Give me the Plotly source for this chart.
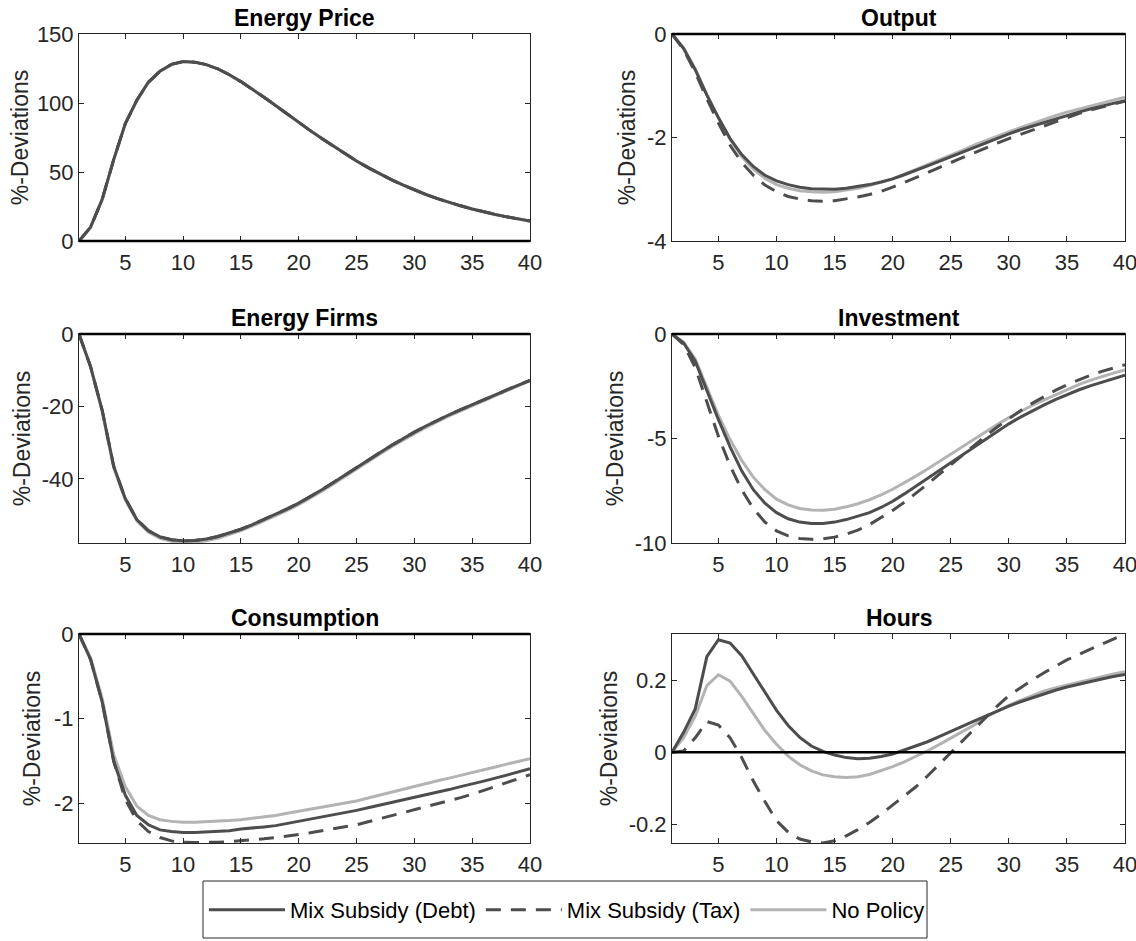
import plotly.graph_objects as go

# ---------------- data ----------------
periods = list(range(1, 41))
x_ticks = [5, 10, 15, 20, 25, 30, 35, 40]

panel_titles = ["Energy Price", "Output", "Energy Firms", "Investment", "Consumption", "Hours"]
series_names = ["Mix Subsidy (Debt)", "Mix Subsidy (Tax)", "No Policy"]
y_label = "%-Deviations"

# Energy Price (all three scenarios coincide)
ep_debt = [0, 10, 30, 59, 85, 102, 115, 123, 128, 130, 129.6, 127.8, 124.8, 120.5, 115.5, 110, 104.2, 98.2, 92, 86,
           80, 74.2, 68.6, 63.2, 58, 53.2, 48.7, 44.5, 40.6, 37, 33.7, 30.7, 28, 25.5, 23.2, 21.1, 19.2, 17.5, 15.9, 14.5]
ep_tax = [0, 10, 30, 59, 85, 102, 115, 123, 128, 130, 129.6, 127.8, 124.8, 120.5, 115.5, 110, 104.2, 98.2, 92, 86,
          80, 74.2, 68.6, 63.2, 58, 53.2, 48.7, 44.5, 40.6, 37, 33.7, 30.7, 28, 25.5, 23.2, 21.1, 19.2, 17.5, 15.9, 14.5]
ep_nopol = [0, 10, 30, 59, 85, 102, 115, 123, 128, 130, 129.6, 127.8, 124.8, 120.5, 115.5, 110, 104.2, 98.2, 92, 86,
            80, 74.2, 68.6, 63.2, 58, 53.2, 48.7, 44.5, 40.6, 37, 33.7, 30.7, 28, 25.5, 23.2, 21.1, 19.2, 17.5, 15.9, 14.5]

# Output
out_debt = [0, -0.28, -0.69, -1.18, -1.62, -2.02, -2.33, -2.56, -2.73, -2.84, -2.91, -2.96, -2.99, -3.0, -3.0,
            -2.98, -2.95, -2.91, -2.86, -2.8, -2.72, -2.64, -2.55, -2.46, -2.37, -2.28, -2.19, -2.1, -2.01, -1.93,
            -1.85, -1.78, -1.71, -1.64, -1.57, -1.51, -1.45, -1.39, -1.34, -1.29]
out_tax = [0, -0.3, -0.74, -1.25, -1.72, -2.15, -2.48, -2.73, -2.92, -3.05, -3.14, -3.19, -3.22, -3.23, -3.22,
           -3.19, -3.15, -3.1, -3.04, -2.96, -2.87, -2.78, -2.68, -2.58, -2.48, -2.39, -2.3, -2.2, -2.11, -2.02,
           -1.94, -1.85, -1.77, -1.69, -1.61, -1.54, -1.47, -1.41, -1.35, -1.3]
out_nopol = [0, -0.27, -0.68, -1.17, -1.62, -2.04, -2.37, -2.61, -2.79, -2.91, -2.98, -3.03, -3.05, -3.06, -3.05,
             -3.02, -2.98, -2.93, -2.87, -2.8, -2.71, -2.62, -2.53, -2.43, -2.34, -2.25, -2.15, -2.06, -1.97, -1.89,
             -1.81, -1.73, -1.66, -1.58, -1.51, -1.45, -1.39, -1.33, -1.27, -1.22]

# Energy Firms
ef_debt = [0, -9, -21, -36.5, -45.4, -51.2, -54.3, -56, -56.8, -57.1, -57, -56.6, -55.9, -55, -53.9,
           -52.6, -51.2, -49.8, -48.3, -46.7, -44.9, -43, -41, -38.9, -36.8, -34.8, -32.8, -30.8, -28.9, -27.1,
           -25.4, -23.8, -22.3, -20.9, -19.6, -18.2, -16.8, -15.4, -14.1, -12.8]
ef_tax = [0, -9, -21, -36.5, -45.4, -51.2, -54.3, -56, -56.8, -57.1, -57, -56.6, -55.9, -55, -53.9,
          -52.6, -51.2, -49.8, -48.3, -46.7, -44.9, -43, -41, -38.9, -36.8, -34.8, -32.8, -30.8, -28.9, -27.1,
          -25.4, -23.8, -22.3, -20.9, -19.6, -18.2, -16.8, -15.4, -14.1, -12.8]
ef_nopol = [0, -9.1, -21.3, -36.9, -45.8, -51.6, -54.7, -56.4, -57.2, -57.6, -57.5, -57.1, -56.4, -55.4, -54.3,
            -53, -51.6, -50.2, -48.7, -47.1, -45.3, -43.4, -41.4, -39.3, -37.2, -35.2, -33.2, -31.2, -29.3, -27.5,
            -25.8, -24.1, -22.6, -21.2, -19.8, -18.4, -17, -15.6, -14.2, -12.9]

# Investment
inv_debt = [0, -0.43, -1.3, -2.7, -4.1, -5.4, -6.55, -7.45, -8.1, -8.55, -8.84, -9.0, -9.07, -9.07, -9.0,
            -8.88, -8.73, -8.55, -8.3, -8.0, -7.65, -7.28, -6.9, -6.52, -6.14, -5.76, -5.39, -5.02, -4.65, -4.3,
            -3.98, -3.68, -3.4, -3.14, -2.9, -2.68, -2.48, -2.3, -2.13, -1.97]
inv_tax = [0, -0.5, -1.6, -3.3, -4.9, -6.3, -7.45, -8.35, -9.0, -9.42, -9.66, -9.78, -9.82, -9.8, -9.72,
           -9.58, -9.38, -9.12, -8.8, -8.44, -8.05, -7.63, -7.18, -6.72, -6.25, -5.78, -5.32, -4.88, -4.45, -4.05,
           -3.67, -3.32, -3.0, -2.7, -2.43, -2.2, -1.98, -1.79, -1.62, -1.47]
inv_nopol = [0, -0.4, -1.2, -2.55, -3.9, -5.05, -6.05, -6.85, -7.45, -7.9, -8.18, -8.35, -8.42, -8.43, -8.38,
             -8.27, -8.12, -7.93, -7.7, -7.43, -7.13, -6.8, -6.46, -6.1, -5.74, -5.38, -5.02, -4.67, -4.33, -4.0,
             -3.7, -3.42, -3.16, -2.92, -2.66, -2.42, -2.22, -2.04, -1.87, -1.72]

# Consumption
con_debt = [0, -0.3, -0.8, -1.5, -1.9, -2.14, -2.25, -2.31, -2.33, -2.34, -2.34, -2.335, -2.33, -2.32, -2.3,
            -2.29, -2.275, -2.26, -2.235, -2.21, -2.185, -2.16, -2.135, -2.11, -2.08, -2.05, -2.02, -1.99, -1.96,
            -1.93, -1.9, -1.87, -1.835, -1.8, -1.77, -1.735, -1.7, -1.665, -1.63, -1.59]
con_tax = [0, -0.3, -0.8, -1.5, -1.95, -2.2, -2.33, -2.4, -2.44, -2.455, -2.46, -2.46, -2.455, -2.45, -2.44,
           -2.43, -2.415, -2.4, -2.385, -2.365, -2.345, -2.32, -2.3, -2.275, -2.25, -2.215, -2.18, -2.145, -2.11,
           -2.07, -2.035, -2.0, -1.965, -1.93, -1.89, -1.845, -1.8, -1.755, -1.71, -1.66]
con_nopol = [0, -0.28, -0.76, -1.42, -1.8, -2.03, -2.14, -2.19, -2.21, -2.22, -2.22, -2.215, -2.21, -2.2, -2.19,
             -2.175, -2.16, -2.14, -2.115, -2.09, -2.07, -2.045, -2.02, -1.995, -1.97, -1.935, -1.9, -1.865, -1.83,
             -1.795, -1.763, -1.73, -1.7, -1.665, -1.635, -1.6, -1.568, -1.535, -1.502, -1.47]

# Hours
hrs_debt = [0, 0.055, 0.12, 0.265, 0.312, 0.303, 0.268, 0.218, 0.165, 0.116, 0.074, 0.041, 0.017, 0.002, -0.008,
            -0.015, -0.018, -0.017, -0.012, -0.005, 0.006, 0.017, 0.029, 0.043, 0.058, 0.072, 0.086, 0.1, 0.115,
            0.128, 0.14, 0.151, 0.162, 0.172, 0.181, 0.189, 0.196, 0.203, 0.21, 0.216]
hrs_tax = [0, 0.003, 0.04, 0.085, 0.075, 0.04, -0.015, -0.08, -0.137, -0.19, -0.222, -0.241, -0.249, -0.252,
           -0.246, -0.232, -0.215, -0.195, -0.172, -0.147, -0.122, -0.096, -0.066, -0.034, -0.002, 0.032, 0.065,
           0.097, 0.128, 0.157, 0.179, 0.2, 0.22, 0.238, 0.256, 0.271, 0.286, 0.3, 0.314, 0.328]
hrs_nopol = [0, 0.04, 0.1, 0.185, 0.215, 0.197, 0.155, 0.107, 0.06, 0.022, -0.011, -0.035, -0.052, -0.063, -0.068,
             -0.07, -0.068, -0.062, -0.052, -0.04, -0.027, -0.012, 0.004, 0.021, 0.04, 0.057, 0.075, 0.097, 0.113,
             0.13, 0.144, 0.157, 0.169, 0.178, 0.186, 0.195, 0.203, 0.21, 0.217, 0.223]

panel_data = [
    (ep_debt, ep_tax, ep_nopol),
    (out_debt, out_tax, out_nopol),
    (ef_debt, ef_tax, ef_nopol),
    (inv_debt, inv_tax, inv_nopol),
    (con_debt, con_tax, con_nopol),
    (hrs_debt, hrs_tax, hrs_nopol),
]
y_ranges = [[0, 150], [-4, 0], [-57.7, 0], [-10, 0], [-2.465, 0], [-0.252, 0.328]]
y_tickvals = [[0, 50, 100, 150], [-4, -2, 0], [-40, -20, 0], [-10, -5, 0], [-2, -1, 0], [-0.2, 0, 0.2]]
y_ticktext = [["0", "50", "100", "150"], ["-4", "-2", "0"], ["-40", "-20", "0"], ["-10", "-5", "0"],
              ["-2", "-1", "0"], ["-0.2", "0", "0.2"]]
zero_level = 0

# ---------------- styling / layout ----------------
W, H = 1136, 941
FONT = "Liberation Sans, Arial, Helvetica, sans-serif"
DARK = "#4d4d4d"
LIGHT = "#b3b3b3"
AXC = "#262626"
col_px = [(79, 530), (672, 1125)]
row_px = [(34, 241), (334, 543), (634, 843)]
title_standoff = [1, 4, 4, 4, 6, 4]

fig = go.Figure()
layout = dict(
    width=W, height=H, margin=dict(l=0, r=0, t=0, b=0, autoexpand=False),
    paper_bgcolor="white", plot_bgcolor="white",
    font=dict(family=FONT, size=22, color=AXC),
    showlegend=True,
)
annotations = []
shapes = []
for i in range(6):
    r, c = divmod(i, 2)
    k = "" if i == 0 else str(i + 1)
    x0, x1 = col_px[c]
    ytop, ybot = row_px[r]
    xd = [x0 / W, x1 / W]
    yd = [1 - ybot / H, 1 - ytop / H]
    debt, tax, nopol = panel_data[i]
    xa, ya = "x" + k, "y" + k
    show = (i == 0)
    fig.add_trace(go.Scatter(x=periods, y=nopol, mode="lines", xaxis=xa, yaxis=ya,
                             line=dict(color=LIGHT, width=3), name=series_names[2],
                             showlegend=show, legendrank=3, hoverinfo="skip"))
    fig.add_trace(go.Scatter(x=periods, y=tax, mode="lines", xaxis=xa, yaxis=ya,
                             line=dict(color=DARK, width=3, dash="15px,10px"), name=series_names[1],
                             showlegend=show, legendrank=2, hoverinfo="skip"))
    fig.add_trace(go.Scatter(x=periods, y=debt, mode="lines", xaxis=xa, yaxis=ya,
                             line=dict(color=DARK, width=3), name=series_names[0],
                             showlegend=show, legendrank=1, hoverinfo="skip"))
    # zero reference line (paper coords derived from the axis range so it is not clipped at the frame)
    r0, r1 = y_ranges[i]
    yz = yd[0] + (zero_level - r0) / (r1 - r0) * (yd[1] - yd[0])
    shapes.append(dict(type="line", xref="paper", yref="paper", x0=xd[0], x1=xd[1], y0=yz, y1=yz,
                       line=dict(color="black", width=2.5), layer="above"))
    layout["xaxis" + k] = dict(
        domain=xd, anchor=ya, range=[1, 40], tickvals=x_ticks, ticks="inside", ticklen=5,
        tickcolor=AXC, showline=True, linecolor=AXC, linewidth=1, mirror="ticks",
        showgrid=False, zeroline=False, tickfont=dict(size=22, color=AXC, family=FONT),
        ticklabelstandoff=2, ticklabeloverflow="allow", fixedrange=True, automargin=False,
    )
    layout["yaxis" + k] = dict(
        domain=yd, anchor=xa, range=y_ranges[i], tickvals=y_tickvals[i], ticktext=y_ticktext[i],
        ticks="inside", ticklen=5, tickcolor=AXC, showline=True, linecolor=AXC, linewidth=1,
        mirror="ticks", showgrid=False, zeroline=False,
        tickfont=dict(size=22, color=AXC, family=FONT), ticklabeloverflow="allow",
        title=dict(text=y_label, font=dict(size=23, color=AXC, family=FONT), standoff=title_standoff[i]),
        fixedrange=True, automargin=False,
    )
    annotations.append(dict(
        text="<b>" + panel_titles[i] + "</b>", x=(xd[0] + xd[1]) / 2, y=yd[1], xref="paper", yref="paper",
        xanchor="center", yanchor="bottom", showarrow=False, yshift=1,
        font=dict(size=23, color="black", family=FONT),
    ))

shapes.insert(0, dict(type="rect", xref="paper", yref="paper",
                      x0=203 / W, x1=927 / W, y0=1 - 938 / H, y1=1 - 881 / H,
                      line=dict(color=AXC, width=1), fillcolor="white", layer="below"))
layout["annotations"] = annotations
layout["shapes"] = shapes
layout["legend"] = dict(
    orientation="h", x=567 / W, xanchor="center", y=1 - 910 / H, yanchor="middle",
    font=dict(size=22, color="black", family=FONT), bgcolor="rgba(0,0,0,0)", borderwidth=0,
    itemwidth=76, traceorder="normal",
)
fig.update_layout(**layout)
# remove the browser's default 8px body margin so the figure sits at the page origin
fig.write_html("out.html", config={"displayModeBar": False},
               post_script="document.body.style.margin='0px';")
